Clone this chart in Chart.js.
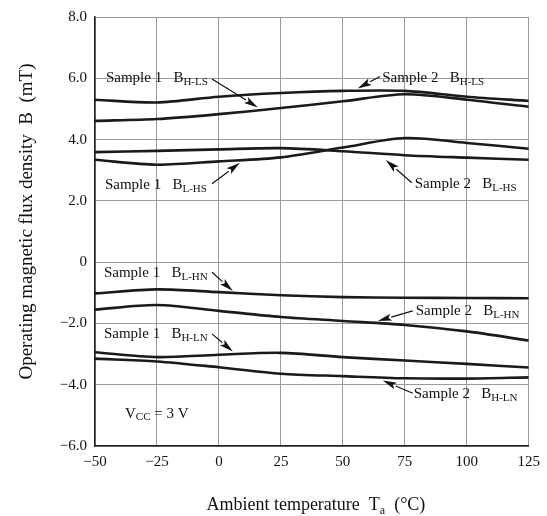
<!DOCTYPE html>
<html>
<head>
<meta charset="utf-8">
<script src="https://cdn.jsdelivr.net/npm/chart.js@4/dist/chart.umd.min.js"></script>
<style>
  body { margin: 0; background: #fff; }
  #wrap { width: 547px; height: 516px; }
</style>
</head>
<body>
<div id="wrap"><canvas id="chart" width="547" height="516"></canvas></div>
<script>
// ambient temperature (°C)
const temps = [-50, -25, 0, 25, 50, 75, 100, 125];

// operating flux density (mT) per sample / threshold
const s1Bhls = [4.61, 4.67, 4.83, 5.03, 5.25, 5.48, 5.30, 5.07];
const s2Bhls = [5.30, 5.21, 5.40, 5.52, 5.59, 5.59, 5.40, 5.26];
const s1Blhs = [3.34, 3.18, 3.29, 3.42, 3.74, 4.05, 3.89, 3.70];
const s2Blhs = [3.59, 3.63, 3.68, 3.72, 3.62, 3.49, 3.41, 3.34];
const s1Blhn = [-1.02, -0.89, -0.98, -1.08, -1.14, -1.16, -1.17, -1.18];
const s2Blhn = [-1.55, -1.40, -1.59, -1.79, -1.92, -2.05, -2.26, -2.56];
const s1Bhln = [-2.94, -3.10, -3.02, -2.96, -3.10, -3.21, -3.32, -3.44];
const s2Bhln = [-3.15, -3.24, -3.43, -3.64, -3.72, -3.79, -3.80, -3.76];

const xTicks = [-50, -25, 0, 25, 50, 75, 100, 125];
const yTicks = [-6, -4, -2, 0, 2, 4, 6, 8];

// callouts, in data units: text anchor, arrow start, arrow tip
const callouts = [
  { text: 'Sample 1   B', sub: 'H-LS', x: -45.6, y: 6.0,  x0: -2.8, y0: 5.98, x1: 15.7, y1: 5.05 },
  { text: 'Sample 2   B', sub: 'H-LS', x: 65.9,  y: 6.02, x0: 65.0, y0: 6.06, x1: 56.0, y1: 5.67 },
  { text: 'Sample 1   B', sub: 'L-HS', x: -46.0, y: 2.52, x0: -2.8, y0: 2.56, x1: 8.5,  y1: 3.24 },
  { text: 'Sample 2   B', sub: 'L-HS', x: 79.0,  y: 2.56, x0: 77.8, y0: 2.59, x1: 67.3, y1: 3.33 },
  { text: 'Sample 1   B', sub: 'L-HN', x: -46.4, y: -0.36, x0: -2.8, y0: -0.33, x1: 5.6, y1: -0.94 },
  { text: 'Sample 2   B', sub: 'L-HN', x: 79.4,  y: -1.59, x0: 78.2, y0: -1.59, x1: 64.1, y1: -1.92 },
  { text: 'Sample 1   B', sub: 'H-LN', x: -46.4, y: -2.34, x0: -2.8, y0: -2.34, x1: 5.6, y1: -2.92 },
  { text: 'Sample 2   B', sub: 'H-LN', x: 78.6,  y: -4.31, x0: 78.2, y0: -4.28, x1: 66.1, y1: -3.86 }
];

const serif = '"Liberation Serif", "Times New Roman", serif';

function pts(arr) {
  return temps.map((t, i) => ({ x: t, y: arr[i] }));
}
function fmtY(v) {
  if (v === 0) return '0';
  return (v < 0 ? '\u2212' : '') + Math.abs(v).toFixed(1);
}
function fmtX(v) {
  return (v < 0 ? '\u2212' : '') + Math.abs(v);
}

// writes runs of [text, size, dy] one after another
function runs(ctx, x, y, parts) {
  parts.forEach(p => {
    ctx.font = p[1] + 'px ' + serif;
    ctx.fillText(p[0], x, y + p[2]);
    x += ctx.measureText(p[0]).width;
  });
  return x;
}

// draws the sample labels with subscripts + leader arrows, and the axis titles
const calloutPlugin = {
  id: 'callouts',
  afterDatasetsDraw(chart) {
    const ctx = chart.ctx;
    const xs = chart.scales.x, ys = chart.scales.y;
    ctx.save();
    ctx.fillStyle = '#111';
    ctx.strokeStyle = '#111';
    ctx.textBaseline = 'middle';
    ctx.textAlign = 'left';
    callouts.forEach(c => {
      const px = xs.getPixelForValue(c.x), py = ys.getPixelForValue(c.y);
      runs(ctx, px, py, [[c.text, 15, 0], [c.sub, 11, 4]]);

      const ax = xs.getPixelForValue(c.x0), ay = ys.getPixelForValue(c.y0);
      const bx = xs.getPixelForValue(c.x1), by = ys.getPixelForValue(c.y1);
      const ang = Math.atan2(by - ay, bx - ax);
      const len = 14, half = 3.6;
      const cx = bx - Math.cos(ang) * len, cy = by - Math.sin(ang) * len;
      ctx.lineWidth = 1.2;
      ctx.beginPath();
      ctx.moveTo(ax, ay);
      ctx.lineTo(cx, cy);
      ctx.stroke();
      ctx.beginPath();
      ctx.moveTo(bx, by);
      ctx.lineTo(cx - Math.sin(ang) * half, cy + Math.cos(ang) * half);
      ctx.lineTo(cx + Math.cos(ang) * 3, cy + Math.sin(ang) * 3);
      ctx.lineTo(cx + Math.sin(ang) * half, cy - Math.cos(ang) * half);
      ctx.closePath();
      ctx.fill();
    });

    // supply voltage note
    runs(ctx, xs.getPixelForValue(-37.9), ys.getPixelForValue(-4.96),
      [['V', 15, 0], ['CC', 11, 3], [' = 3 V', 15, 0]]);

    // x axis title (with subscript)
    ctx.textBaseline = 'alphabetic';
    const parts = [['Ambient temperature  T', 18, 0], ['a', 12, 4], ['  (\u00b0C)', 18, 0]];
    let w = 0;
    parts.forEach(p => { ctx.font = p[1] + 'px ' + serif; w += ctx.measureText(p[0]).width; });
    const mid = (chart.chartArea.left + chart.chartArea.right) / 2 + 4;
    runs(ctx, mid - w / 2, chart.height - 6, parts);

    // y axis title, centred a little above the plot middle like the original
    ctx.translate(32, (chart.chartArea.top + chart.chartArea.bottom) / 2 - 10);
    ctx.rotate(-Math.PI / 2);
    ctx.textAlign = 'center';
    ctx.font = '19px ' + serif;
    ctx.fillText('Operating magnetic flux density  B  (mT)', 0, 0);
    ctx.restore();
  }
};

const lineStyle = {
  borderColor: '#1a1a1a',
  borderWidth: 2.6,
  pointRadius: 0,
  tension: 0.3,
  fill: false
};

new Chart(document.getElementById('chart'), {
  type: 'line',
  data: {
    datasets: [
      Object.assign({ label: 'Sample 1 BH-LS', data: pts(s1Bhls) }, lineStyle),
      Object.assign({ label: 'Sample 2 BH-LS', data: pts(s2Bhls) }, lineStyle),
      Object.assign({ label: 'Sample 1 BL-HS', data: pts(s1Blhs) }, lineStyle),
      Object.assign({ label: 'Sample 2 BL-HS', data: pts(s2Blhs) }, lineStyle),
      Object.assign({ label: 'Sample 1 BL-HN', data: pts(s1Blhn) }, lineStyle),
      Object.assign({ label: 'Sample 2 BL-HN', data: pts(s2Blhn) }, lineStyle),
      Object.assign({ label: 'Sample 1 BH-LN', data: pts(s1Bhln) }, lineStyle),
      Object.assign({ label: 'Sample 2 BH-LN', data: pts(s2Bhln) }, lineStyle)
    ]
  },
  options: {
    responsive: false,
    animation: false,
    layout: { padding: { top: 14, right: 18, left: 0, bottom: 0 } },
    plugins: {
      legend: { display: false },
      tooltip: { enabled: false }
    },
    scales: {
      x: {
        type: 'linear',
        min: -50,
        max: 125,
        afterBuildTicks: s => { s.ticks = xTicks.map(v => ({ value: v })); },
        afterFit: s => { s.height = 70; },
        grid: { color: '#9a9a9a', lineWidth: 1, tickLength: 0 },
        border: { color: '#222', width: 1.5 },
        ticks: {
          color: '#111',
          padding: 7,
          maxRotation: 0,
          font: { family: serif, size: 15 },
          callback: v => fmtX(v)
        }
      },
      y: {
        min: -6,
        max: 8,
        afterBuildTicks: s => { s.ticks = yTicks.map(v => ({ value: v })); },
        afterFit: s => { s.width = 95; },
        grid: { color: '#9a9a9a', lineWidth: 1, tickLength: 0 },
        border: { color: '#222', width: 1.5 },
        ticks: {
          color: '#111',
          padding: 8,
          font: { family: serif, size: 15 },
          callback: v => fmtY(v)
        }
      }
    }
  },
  plugins: [calloutPlugin]
});
</script>
</body>
</html>
